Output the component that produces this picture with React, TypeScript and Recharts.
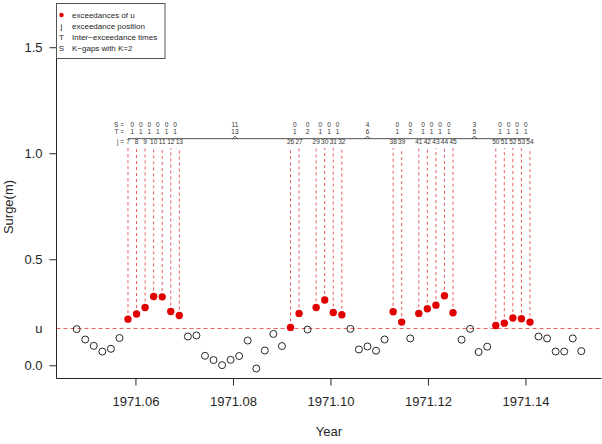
import { ComposedChart, Scatter, XAxis, YAxis, ReferenceLine } from 'recharts';

// surge (m), one value per observation j = 1..60
const surge = [
  0.173, 0.124, 0.094, 0.067, 0.080, 0.131, 0.220, 0.244, 0.275, 0.327,
  0.325, 0.256, 0.237, 0.138, 0.143, 0.047, 0.027, 0.003, 0.028, 0.046,
  0.119, -0.013, 0.072, 0.150, 0.093, 0.181, 0.247, 0.171, 0.275, 0.310,
  0.251, 0.241, 0.174, 0.077, 0.091, 0.071, 0.124, 0.255, 0.206, 0.129,
  0.247, 0.269, 0.286, 0.330, 0.250, 0.123, 0.174, 0.065, 0.090, 0.190,
  0.201, 0.225, 0.222, 0.206, 0.138, 0.129, 0.067, 0.067, 0.129, 0.069,
];
const threshold = 0.176;
const startYear = 1971.04784;
const stepYear = 0.0017545;

// exceedance positions j, inter-exceedance times T and K-gaps S (K = 2)
const exceedPos = [7, 8, 9, 10, 11, 12, 13, 26, 27, 29, 30, 31, 32, 38, 39, 41, 42, 43, 44, 45, 50, 51, 52, 53, 54];
const interTimes = [1, 1, 1, 1, 1, 1, 13, 1, 2, 1, 1, 1, 6, 1, 2, 1, 1, 1, 1, 5, 1, 1, 1, 1];
const kGaps = [0, 0, 0, 0, 0, 0, 11, 0, 0, 0, 0, 0, 4, 0, 0, 0, 0, 0, 0, 3, 0, 0, 0, 0];

const yTicks = [0, threshold, 0.5, 1, 1.5];
const xTicks = [1971.06, 1971.08, 1971.1, 1971.12, 1971.14];
const legendItems = [
  { sym: 'dot', label: 'exceedances of u' },
  { sym: 'j', label: 'exceedance position' },
  { sym: 'T', label: 'Inter\u2212exceedance times' },
  { sym: 'S', label: 'K\u2212gaps with K=2' },
];

// annotation rows, in surge units
const ROW_S = 1.139;
const ROW_T = 1.105;
const ROW_J = 1.058;
const BRACE_Y = 1.071;
const DROP_TOP = 1.027;

const W = 602;
const H = 444;
const PLOT_LEFT = 56.5;
const FONT = '"Liberation Sans", Arial, Helvetica, sans-serif';
const RED = '#e00000';
const INK = '#262626';

const obs = surge.map((v, i) => ({ t: startYear + i * stepYear, v }));
const above = exceedPos.map(j => obs[j - 1]);
const below = obs.filter((_, i) => !exceedPos.includes(i + 1));

const mids = interTimes.map((_, k) => (above[k].t + above[k + 1].t) / 2);
const jLabels = above.map((p, k) => ({ t: p.t, v: ROW_J, label: String(exceedPos[k]) }));
const tLabels = interTimes.map((T, k) => ({ t: mids[k], v: ROW_T, label: String(T) }));
const sLabels = kGaps.map((S, k) => ({ t: mids[k], v: ROW_S, label: String(S) }));
const rowHeads = [
  { t: above[0].t, v: ROW_S, label: 'S =' },
  { t: above[0].t, v: ROW_T, label: 'T =' },
  { t: above[0].t, v: ROW_J, label: 'j =' },
];
const bumps = mids.filter((_, k) => kGaps[k] > 0);
const bumpW = 0.0005;
const bumpH = 0.012;

const OpenDot = (p: any) => (
  <circle cx={p.cx} cy={p.cy} r={3.5} fill="none" stroke={INK} strokeWidth={1} />
);
const RedDot = (p: any) => <circle cx={p.cx} cy={p.cy} r={3.7} fill={RED} />;
const Num = (p: any) => (
  <text x={p.cx} y={p.cy} textAnchor="middle" dominantBaseline="central"
    fontSize={6.5} fill="#333" fontFamily={FONT}>{p.payload.label}</text>
);
const Head = (p: any) => (
  <text x={p.cx - 4} y={p.cy} textAnchor="end" dominantBaseline="central"
    fontSize={6.5} fill="#333" fontFamily={FONT}>{p.payload.label}</text>
);

const YTick = (p: any) => {
  const v = p.payload.value;
  const isU = Math.abs(v - threshold) < 1e-9;
  return (
    <g>
      {!isU && <line x1={PLOT_LEFT - 7} x2={PLOT_LEFT} y1={p.y} y2={p.y} stroke={INK} />}
      <text x={PLOT_LEFT - 14} y={p.y} textAnchor="end" dominantBaseline="central"
        fontSize={13} fill={INK} fontFamily={FONT}>{isU ? 'u' : v.toFixed(1)}</text>
    </g>
  );
};

export default function App() {
  return (
    <div style={{ position: 'relative', width: W, height: H, background: '#fff' }}>
      <style>{'body{margin:0}'}</style>
      <ComposedChart width={W} height={H} margin={{ top: 35, right: 0.5, bottom: 5.5, left: 0 }}>
        <XAxis
          dataKey="t" type="number" domain={[1971.0437, 1971.1555]} ticks={xTicks}
          allowDataOverflow height={60} tickSize={7} tickMargin={11}
          tickFormatter={(v: number) => v.toFixed(2)}
          tick={{ fontSize: 13, fill: INK, fontFamily: FONT }}
          axisLine={{ stroke: INK }} tickLine={{ stroke: INK }}
        />
        <YAxis
          dataKey="v" type="number" domain={[-0.06, 1.56]} ticks={yTicks}
          allowDataOverflow width={PLOT_LEFT} tick={YTick} tickLine={false}
          axisLine={{ stroke: INK }}
        />
        <ReferenceLine y={threshold} stroke={RED} strokeDasharray="4 3" strokeOpacity={0.65} />
        {above.map((p, k) => (
          <ReferenceLine key={'d' + k} segment={[{ x: p.t, y: p.v }, { x: p.t, y: DROP_TOP }]}
            stroke={RED} strokeDasharray="3 3" strokeOpacity={0.65} />
        ))}
        <ReferenceLine segment={[{ x: above[0].t, y: BRACE_Y }, { x: above[above.length - 1].t, y: BRACE_Y }]}
          stroke={INK} strokeWidth={0.8} />
        {bumps.map((m, k) => (
          <ReferenceLine key={'bl' + k} segment={[{ x: m - bumpW, y: BRACE_Y }, { x: m, y: BRACE_Y + bumpH }]}
            stroke={INK} strokeWidth={0.8} />
        ))}
        {bumps.map((m, k) => (
          <ReferenceLine key={'br' + k} segment={[{ x: m, y: BRACE_Y + bumpH }, { x: m + bumpW, y: BRACE_Y }]}
            stroke={INK} strokeWidth={0.8} />
        ))}
        <Scatter data={below} shape={OpenDot} isAnimationActive={false} />
        <Scatter data={above} shape={RedDot} isAnimationActive={false} />
        <Scatter data={jLabels} shape={Num} isAnimationActive={false} />
        <Scatter data={tLabels} shape={Num} isAnimationActive={false} />
        <Scatter data={sLabels} shape={Num} isAnimationActive={false} />
        <Scatter data={rowHeads} shape={Head} isAnimationActive={false} />
      </ComposedChart>
      <svg width={W} height={H} style={{ position: 'absolute', left: 0, top: 0, pointerEvents: 'none' }}>
        <text x={13} y={207} transform="rotate(-90 13 207)" textAnchor="middle"
          fontSize={13} fill={INK} fontFamily={FONT}>Surge(m)</text>
        <text x={329} y={436} textAnchor="middle" fontSize={13} fill={INK} fontFamily={FONT}>Year</text>
        <rect x={56.5} y={3.5} width={108.5} height={55} fill="#fff" stroke="#555" />
        {legendItems.map((it, i) => (
          <g key={it.label}>
            {it.sym === 'dot'
              ? <circle cx={61.5} cy={15 + i * 11} r={2.2} fill={RED} />
              : <text x={61.5} y={15 + i * 11} textAnchor="middle" dominantBaseline="central"
                  fontSize={8} fill={INK} fontFamily={FONT}>{it.sym}</text>}
            <text x={72} y={15 + i * 11} dominantBaseline="central" fontSize={8}
              fill={INK} fontFamily={FONT}>{it.label}</text>
          </g>
        ))}
      </svg>
    </div>
  );
}
